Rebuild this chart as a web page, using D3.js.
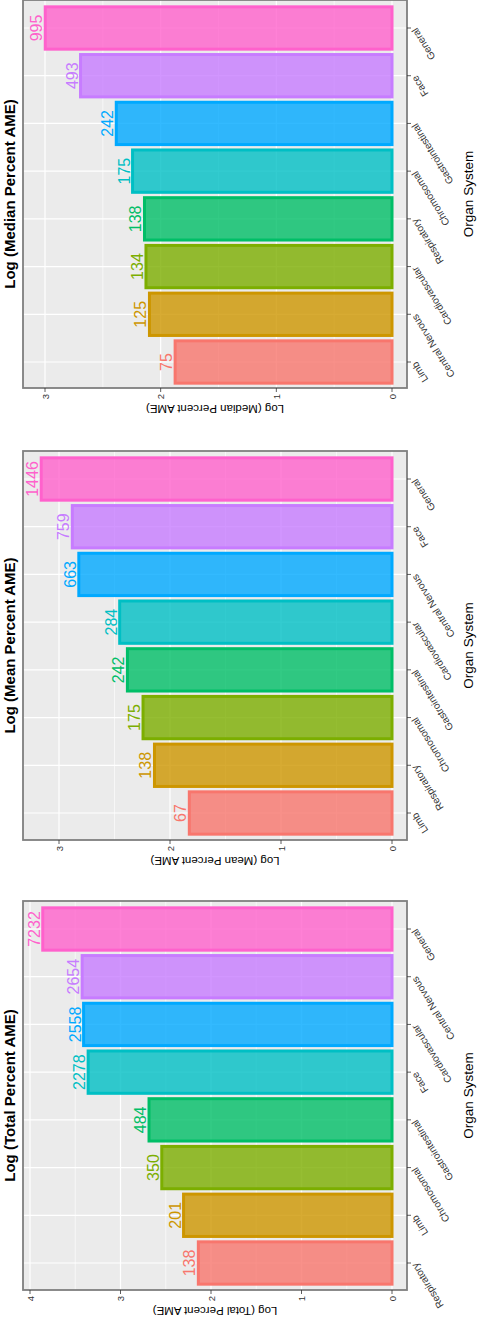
<!DOCTYPE html>
<html><head><meta charset="utf-8">
<script src="https://cdn.jsdelivr.net/npm/d3@7"></script>
<style>body{margin:0;background:#fff}svg{display:block}text{font-family:"Liberation Sans",Arial,sans-serif}</style>
</head><body>
<svg id="c" width="477" height="1320"></svg>
<script>
// Data (bottom-to-top order within each panel)
const medianCats = ["Limb","Central Nervous","Cardiovascular","Respiratory","Chromosomal","Gastrointestinal","Face","General"];
const medianVals = [75,125,134,138,175,242,493,995];
const meanCats = ["Limb","Respiratory","Chromosomal","Gastrointestinal","Cardiovascular","Central Nervous","Face","General"];
const meanVals = [67,138,175,242,284,663,759,1446];
const totalCats = ["Respiratory","Limb","Chromosomal","Gastrointestinal","Face","Cardiovascular","Central Nervous","General"];
const totalVals = [138,201,350,484,2278,2558,2654,7232];
const medianTicks = [0,1,2,3];
const meanTicks = [0,1,2,3];
const totalTicks = [0,1,2,3,4];
const palette = ["#F8766D","#CD9600","#7CAE00","#00BE67","#00BFC4","#00A9FF","#C77CFF","#FF61CC"];

const panels = [
 {title:"Log (Median Percent AME)", ytitle:"Log (Median Percent AME)", cats:medianCats, vals:medianVals, ticks:medianTicks,
  top:0, bottom:388, zeroX:392, maxX:45, catBottom:362, catTop:28},
 {title:"Log (Mean Percent AME)", ytitle:"Log (Mean Percent AME)", cats:meanCats, vals:meanVals, ticks:meanTicks,
  top:451, bottom:840, zeroX:392, maxX:59, catBottom:813, catTop:479},
 {title:"Log (Total Percent AME)", ytitle:"Log (Total Percent AME)", cats:totalCats, vals:totalVals, ticks:totalTicks,
  top:901, bottom:1290, zeroX:392, maxX:30, catBottom:1263, catTop:929}
];
const L=23, R=407;
const svg = d3.select("#c");

panels.forEach(p=>{
  const g = svg.append("g");
  const maxT = p.ticks[p.ticks.length-1];
  const x = d3.scaleLinear().domain([0,maxT]).range([p.zeroX,p.maxX]);
  const y = d3.scalePoint().domain(p.cats).range([p.catBottom,p.catTop]);
  const bw = y.step()*0.95;
  g.append("rect").attr("x",L).attr("y",p.top).attr("width",R-L).attr("height",p.bottom-p.top).attr("fill","#EBEBEB");
  // minor grid
  const minors = d3.range(0.5, x.invert(L), 1);
  g.selectAll(".mn").data(minors).join("line").attr("x1",d=>x(d)).attr("x2",d=>x(d))
    .attr("y1",p.top).attr("y2",p.bottom).attr("stroke","#fff").attr("stroke-width",0.6);
  g.selectAll(".mj").data(p.ticks).join("line").attr("x1",d=>x(d)).attr("x2",d=>x(d))
    .attr("y1",p.top).attr("y2",p.bottom).attr("stroke","#fff").attr("stroke-width",1.2);
  g.selectAll(".cg").data(p.cats).join("line").attr("y1",d=>y(d)).attr("y2",d=>y(d))
    .attr("x1",L).attr("x2",R).attr("stroke","#fff").attr("stroke-width",1.2);
  // bars
  g.selectAll(".bar").data(p.cats).join("rect")
    .attr("x",(d,i)=>x(Math.log10(p.vals[i]))).attr("width",(d,i)=>x(0)-x(Math.log10(p.vals[i])))
    .attr("y",d=>y(d)-bw/2+1.5).attr("height",bw-3)
    .attr("fill",(d,i)=>palette[i]).attr("fill-opacity",0.8)
    .attr("stroke",(d,i)=>palette[i]).attr("stroke-width",3);
  // value labels
  g.selectAll(".vl").data(p.cats).join("text")
    .attr("transform",(d,i)=>`translate(${x(Math.log10(p.vals[i]))-3},${y(d)}) rotate(-90)`)
    .attr("text-anchor","middle").attr("font-size",16).attr("fill",(d,i)=>palette[i])
    .text((d,i)=>p.vals[i]);
  // border
  g.append("rect").attr("x",L).attr("y",p.top).attr("width",R-L).attr("height",p.bottom-p.top)
    .attr("fill","none").attr("stroke","#7f7f7f").attr("stroke-width",1.8);
  // value ticks
  g.selectAll(".vt").data(p.ticks).join("line").attr("x1",d=>x(d)).attr("x2",d=>x(d))
    .attr("y1",p.bottom).attr("y2",p.bottom+4).attr("stroke","#333").attr("stroke-width",0.8);
  g.selectAll(".vtl").data(p.ticks).join("text")
    .attr("transform",d=>`translate(${x(d)+3.5},${p.bottom+6}) rotate(-90)`)
    .attr("text-anchor","end").attr("font-size",9.5).attr("fill","#333").text(d=>d);
  // category ticks
  g.selectAll(".ct").data(p.cats).join("line").attr("y1",d=>y(d)).attr("y2",d=>y(d))
    .attr("x1",R).attr("x2",R+4).attr("stroke","#333").attr("stroke-width",0.8);
  g.selectAll(".ctl").data(p.cats).join("text")
    .attr("transform",d=>`translate(${R+7},${y(d)+1}) rotate(-122)`)
    .attr("text-anchor","end").attr("dy","0.35em").attr("font-size",10).attr("fill","#333").text(d=>d);
  // titles
  const cy=(p.top+p.bottom)/2;
  g.append("text").attr("transform",`translate(15,${cy}) rotate(-90)`).attr("text-anchor","middle")
    .attr("font-size",15).attr("font-weight","bold").attr("fill","#000").text(p.title);
  g.append("text").attr("transform",`translate(473,${cy}) rotate(-90)`).attr("text-anchor","middle")
    .attr("font-size",13.5).attr("fill","#000").text("Organ System");
  g.append("text").attr("transform",`translate(${(L+R)/2},${p.bottom+17}) rotate(180)`).attr("text-anchor","middle")
    .attr("font-size",11.5).attr("fill","#000").text(p.ytitle);
});
</script>
</body></html>
